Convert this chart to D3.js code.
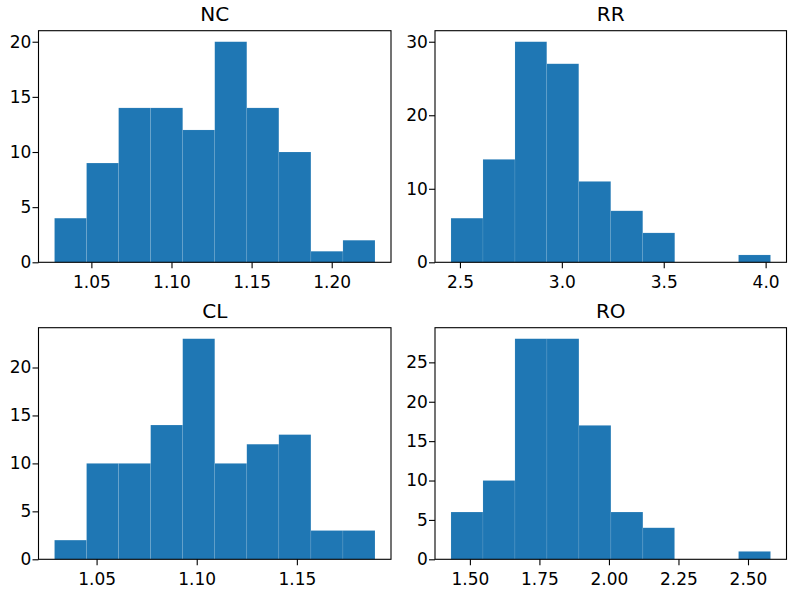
<!DOCTYPE html>
<html>
<head>
<meta charset="utf-8">
<script src="https://cdn.jsdelivr.net/npm/d3@7"></script>
<style>
  body { margin: 0; background: #fff; }
  svg { display: block; }
  text { font-family: "DejaVu Sans", sans-serif; fill: #000; }
</style>
</head>
<body>
<svg width="793" height="594"></svg>
<script>
// histogram data (bin edges + counts)
var titles = ['NC', 'RR', 'CL', 'RO'];

var ncEdges = [1.027, 1.047, 1.067, 1.087, 1.107, 1.127, 1.147, 1.167, 1.187, 1.207, 1.227];
var ncCounts = [4, 9, 14, 14, 12, 20, 14, 10, 1, 2];
var ncTicks = [1.05, 1.10, 1.15, 1.20];
var ncYTicks = [0, 5, 10, 15, 20];

var rrEdges = [2.456, 2.613, 2.770, 2.926, 3.083, 3.240, 3.397, 3.554, 3.710, 3.867, 4.024];
var rrCounts = [6, 14, 30, 27, 11, 7, 4, 0, 0, 1];
var rrTicks = [2.5, 3.0, 3.5, 4.0];
var rrYTicks = [0, 10, 20, 30];

var clEdges = [1.029, 1.045, 1.061, 1.077, 1.093, 1.109, 1.125, 1.141, 1.157, 1.173, 1.189];
var clCounts = [2, 10, 10, 14, 23, 10, 12, 13, 3, 3];
var clTicks = [1.05, 1.10, 1.15];
var clYTicks = [0, 5, 10, 15, 20];

var roEdges = [1.432, 1.547, 1.662, 1.777, 1.892, 2.007, 2.122, 2.236, 2.351, 2.466, 2.581];
var roCounts = [6, 10, 28, 28, 17, 6, 4, 0, 0, 1];
var roTicks = [1.50, 1.75, 2.00, 2.25, 2.50];
var roYTicks = [0, 5, 10, 15, 20, 25];

var panels = [
  {edges: ncEdges, counts: ncCounts, ticks: ncTicks, yticks: ncYTicks, fmt: '.2f', x0: 38.5, x1: 391, y0: 30.7, y1: 262.3},
  {edges: rrEdges, counts: rrCounts, ticks: rrTicks, yticks: rrYTicks, fmt: '.1f', x0: 435, x1: 786.5, y0: 30.7, y1: 262.3},
  {edges: clEdges, counts: clCounts, ticks: clTicks, yticks: clYTicks, fmt: '.2f', x0: 38.5, x1: 391, y0: 327.7, y1: 559.3},
  {edges: roEdges, counts: roCounts, ticks: roTicks, yticks: roYTicks, fmt: '.2f', x0: 435, x1: 786.5, y0: 327.7, y1: 559.3}
];

var svg = d3.select('svg');
var color = '#1f77b4';
var tickFont = '17px';

panels.forEach(function(p, k) {
  var lo = p.edges[0], hi = p.edges[p.edges.length - 1];
  var pad = (hi - lo) * 0.05;
  var ymax = d3.max(p.counts) * 1.05;

  var x = d3.scaleLinear().domain([lo - pad, hi + pad]).range([p.x0, p.x1]);
  var y = d3.scaleLinear().domain([0, ymax]).range([p.y1, p.y0]);

  var g = svg.append('g');

  var bins = p.counts.map(function(c, i) {
    return {a: p.edges[i], b: p.edges[i + 1], c: c};
  }).filter(function(d) { return d.c > 0; });

  g.selectAll('rect.bar')
    .data(bins)
    .enter()
    .append('rect')
    .attr('class', 'bar')
    .attr('x', function(d) { return x(d.a); })
    .attr('width', function(d) { return x(d.b) - x(d.a); })
    .attr('y', function(d) { return y(d.c); })
    .attr('height', function(d) { return y(0) - y(d.c); })
    .style('fill', color)
    .style('stroke', 'rgba(255,255,255,0.15)')
    .style('stroke-width', 0.6);

  // axes
  var xAxis = d3.axisBottom(x).tickValues(p.ticks).tickFormat(d3.format(p.fmt))
    .tickSizeInner(6).tickSizeOuter(0).tickPadding(7.7);
  var yAxis = d3.axisLeft(y).tickValues(p.yticks).tickFormat(d3.format('d'))
    .tickSizeInner(6).tickSizeOuter(0).tickPadding(1.2);

  var gx = g.append('g').attr('transform', 'translate(0,' + p.y1 + ')').call(xAxis);
  var gy = g.append('g').attr('transform', 'translate(' + p.x0 + ',0)').call(yAxis);
  [gx, gy].forEach(function(a) {
    a.select('.domain').remove();
    a.selectAll('line').style('stroke', '#000').style('stroke-width', 1.1);
    a.selectAll('text').style('font-size', tickFont).style('font-family', '"DejaVu Sans", sans-serif');
  });

  // frame
  g.append('rect')
    .attr('x', p.x0).attr('y', p.y0)
    .attr('width', p.x1 - p.x0).attr('height', p.y1 - p.y0)
    .style('fill', 'none').style('stroke', '#000').style('stroke-width', 1.1);

  g.append('text')
    .attr('x', (p.x0 + p.x1) / 2)
    .attr('y', p.y0 - 9.4)
    .attr('text-anchor', 'middle')
    .style('font-size', '20px')
    .text(titles[k]);
});
</script>
</body>
</html>
